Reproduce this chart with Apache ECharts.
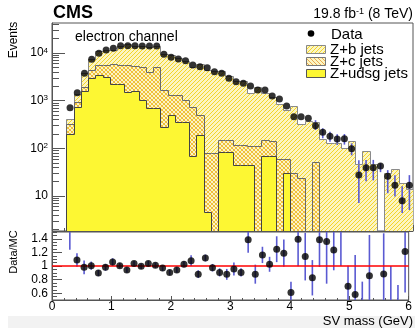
<!DOCTYPE html>
<html><head><meta charset="utf-8">
<script src="https://cdn.jsdelivr.net/npm/echarts@6/dist/echarts.min.js"></script>
<style>html,body{margin:0;padding:0;background:#fff}#c{width:415px;height:328px}</style>
</head><body><div id="c"></div>
<script>
// ---- data (SV mass, 50 bins of 0.12 GeV) ----
const binLow = [0,0.12,0.24,0.36,0.48,0.6,0.72,0.84,0.96,1.08,1.2,1.32,1.44,1.56,1.68,1.8,1.92,2.04,2.16,2.28,
  2.4,2.52,2.64,2.76,2.88,3.0,3.12,3.24,3.36,3.48,3.6,3.72,3.84,3.96,4.08,4.2,4.32,4.44,4.56,4.68,
  4.8,4.92,5.04,5.16,5.28,5.4,5.52,5.64,5.76,5.88];
const binWidth = 0.12;
const dataEvents = [null,null,713,1470,3750,7370,9850,11550,12540,14230,14200,14200,14000,14000,14000,9390,8120,7480,6900,5600,
  5160,4920,4060,3750,2950,2500,2310,2030,1675,1675,1250,1085,774,462,462,427,300,219,180,158,
  160,98.6,27.7,39.4,39.4,42.8,26,16.8,8,16.8];
const dataErrUp = [null,null,null,null,null,null,null,null,null,null,null,null,null,null,null,null,null,null,null,null,
  null,null,null,null,null,null,null,null,null,null,null,null,null,null,null,null,90,45,44,40,
  40,29,29,18,18,6,9,10.7,8,10.7];
const dataErrDown = [null,null,null,null,null,null,null,null,null,null,null,null,null,null,null,null,null,null,null,null,
  null,null,null,null,null,null,null,null,null,null,null,null,null,null,null,null,57,56,42,40,
  40,27,20.5,19,18,11,14.5,7,3.6,11.7];
const zUdsg = [0,0,200,730,1600,3000,3450,3200,2200,2200,1500,1600,1030,690,690,285,500,363,363,69,
  191,4.7,0,85,85,45,45,45,0,69,69,0,31,0,0,0,0,0,0,0,
  0,0,0,0,0,0,0,0,0,0];
const zC = [0,0,120,220,370,1400,2150,2400,3650,3400,4100,3800,4140,3370,4480,1390,820,957,672,681,
  309,75,79,65,65,72,72,65,110,81,71,60,29,30,23.6,0,51,0,0,0,
  0,0,0,0,0,0,0,0,0,0];
const zB = [0,0,90,400,1860,2930,5390,6190,5990,8560,9490,8320,8900,9470,8690,8005,7640,6640,5695,4440,
  5360,4320,4081,3990,3210,2503,2433,1356,1790,1290,1080,810,590,727,307,375,312,158,132,128,
  103,140,48,87,46,0,30,37,19,13.9];
const ratio = [null,null,1.74,1.089,0.98,1.005,0.896,0.98,1.059,1.005,0.941,1.035,0.995,1.035,1.01,0.97,0.906,0.94,1.025,1.079,
  0.88,1.118,0.975,0.906,0.877,0.956,0.906,1.385,0.88,1.163,1.025,1.247,1.188,0.61,1.395,1.138,0.827,1.385,1.36,1.237,
  1.55,0.704,0.58,0.45,0.857,null,0.881,0.45,0.42,1.212];
const ratioErr = [null,null,0.5,0.1,0.1,0.06,0.045,0.05,0.055,0.04,0.04,0.04,0.04,0.04,0.04,0.045,0.04,0.04,0.045,0.08,
  0.057,0.05,0.055,0.06,0.08,0.095,0.06,0.19,0.14,0.12,0.11,0.19,0.2,0.16,0.4,0.35,0.26,0.4,0.62,0.3,
  0.55,0.3,0.58,0.32,0.6,null,0.6,0.55,0.3,0.6];
const logMajorTicks = [10,100,1000,10000];
const logMinorTicks = [2,3,4,5,6,7,8,9,20,30,40,50,60,70,80,90,200,300,400,500,600,700,800,900,
  2000,3000,4000,5000,6000,7000,8000,9000,20000,30000,40000];
const ratioMajorTicks = [0.6,0.8,1,1.2,1.4];
const ratioMinorTicks = [0.5,0.55,0.65,0.7,0.75,0.85,0.9,0.95,1.05,1.1,1.15,1.25,1.3,1.35,1.45,1.5];
const legendNames = ['Data','Z+b jets','Z+c jets','Z+udsg jets'];

// ---- rendering ----
const Y_MIN = 1.855, Y_MAX = 42560;
const FONT = 'Liberation Sans, Arial, Helvetica, sans-serif';
function hatch(color, dir, bg) {
  const c = document.createElement('canvas'); c.width = 4; c.height = 4;
  const g = c.getContext('2d');
  if (bg) { g.fillStyle = bg; g.fillRect(0, 0, 4, 4); }
  g.strokeStyle = color; g.lineWidth = 1;
  g.beginPath();
  if (dir > 0) { g.moveTo(-1,5); g.lineTo(5,-1); g.moveTo(-1,1); g.lineTo(1,-1); g.moveTo(3,5); g.lineTo(5,3); }
  else { g.moveTo(-1,-1); g.lineTo(5,5); g.moveTo(3,-1); g.lineTo(5,1); g.moveTo(-1,3); g.lineTo(1,5); }
  g.stroke();
  return { image: c, repeat: 'repeat' };
}
const patB = hatch('#f3d52a', 1, '#fcf5c2');
const patC = hatch('#eca850', -1, null);
const patCLegend = hatch('#eca850', -1, '#fcf5c2');
const YELLOW = '#fdf733';

const cumU = zUdsg.slice();
const cumC = zUdsg.map((v, i) => v + zC[i]);
const cumB = cumC.map((v, i) => v + zB[i]);

function clampY(v) { return Math.min(Math.max(v, Y_MIN), Y_MAX); }
function histSeries(name, top, fill, stroke) {
  return {
    type: 'custom', name, xAxisIndex: 0, yAxisIndex: 0, clip: true,
    data: top.map((v, k) => [binLow[k], v]),
    renderItem(params, api) {
      const k = params.dataIndex;
      const x0 = binLow[k], x1 = x0 + binWidth;
      const v = top[k], vPrev = k > 0 ? top[k - 1] : 0;
      const pTop = api.coord([x0, clampY(v)]);
      const pBot = api.coord([x1, Y_MIN]);
      const pPrev = api.coord([x0, clampY(vPrev)]);
      const L = Math.round(pTop[0]), R = Math.round(pBot[0]);
      const T = Math.round(pTop[1]), B = Math.round(pBot[1]), P = Math.round(pPrev[1]);
      const ch = [];
      if (v > Y_MIN) ch.push({ type: 'rect', shape: { x: L, y: T, width: R - L, height: B - T }, style: { fill } });
      ch.push({ type: 'polyline', shape: { points: [[L + 0.5, P + 0.5], [L + 0.5, T + 0.5], [R + 0.5, T + 0.5]] },
        style: { stroke, lineWidth: 1, fill: null }, z2: 5 });
      return { type: 'group', children: ch };
    }
  };
}
function errSeries(xi, yi, xs, ys, up, down, color) {
  return {
    type: 'custom', xAxisIndex: xi, yAxisIndex: yi, clip: true,
    data: xs.map((x, k) => [x, ys[k], up[k], down[k]]).filter(d => d[1] != null && d[2] != null),
    renderItem(params, api) {
      const x = api.value(0), y = api.value(1), u = api.value(2), d = api.value(3);
      const lo = yi === 0 ? clampY(y - d) : Math.max(y - d, 0.5);
      const hi = yi === 0 ? clampY(y + u) : Math.min(y + u, 1.5);
      const a = api.coord([x, lo]), b = api.coord([x, hi]);
      return { type: 'line', shape: { x1: a[0], y1: a[1], x2: b[0], y2: b[1] }, style: { stroke: color, lineWidth: 1.6 } };
    }
  };
}
const centers = binLow.map(v => v + binWidth / 2);
const ERRC = '#5a5ad2';

const supRich = { s: { fontSize: 8, fontFamily: FONT, verticalAlign: 'top', padding: [0, 0, 5, 0] } };
const LEG_FONT = '15px ' + FONT;

const option = {
  animation: false,
  backgroundColor: '#fff',
  grid: [
    { left: 52, right: 2, top: 23, height: 208, show: true, borderColor: '#555', borderWidth: 1, backgroundColor: 'transparent' },
    { left: 52, right: 2, top: 232, height: 68, show: true, borderColor: '#555', borderWidth: 1, backgroundColor: 'transparent' }
  ],
  xAxis: [
    { type: 'value', gridIndex: 0, min: 0, max: 6, interval: 1, splitLine: { show: false },
      axisLine: { lineStyle: { color: '#555' } }, axisLabel: { show: false },
      axisTick: { inside: true, length: 6, lineStyle: { color: '#555' } },
      minorTick: { show: true, splitNumber: 5, length: 3, lineStyle: { color: '#555' } } },
    { type: 'value', gridIndex: 1, min: 0, max: 6, interval: 1, splitLine: { show: false },
      axisLine: { lineStyle: { color: '#555' } },
      axisLabel: { color: '#000', fontSize: 12, fontFamily: FONT, margin: 1 },
      axisTick: { inside: true, length: 4, lineStyle: { color: '#555' } },
      minorTick: { show: true, splitNumber: 5, length: 2, lineStyle: { color: '#555' } } }
  ],
  yAxis: [
    { type: 'log', gridIndex: 0, logBase: 10, min: Y_MIN, max: Y_MAX, position: 'left', splitLine: { show: false },
      axisLine: { show: true, lineStyle: { color: '#555' } },
      axisTick: { inside: true, length: 13, customValues: logMajorTicks, lineStyle: { color: '#555' } },
      axisLabel: { customValues: logMajorTicks, margin: 4, color: '#000', fontSize: 12, fontFamily: FONT, rich: supRich,
        formatter: v => { const e = Math.round(Math.log10(v)); return e === 1 ? '10' : '10{s|' + e + '}'; } } },
    { type: 'value', gridIndex: 1, min: 0.5, max: 1.5, position: 'left', splitLine: { show: false },
      axisLine: { show: true, lineStyle: { color: '#555' } },
      axisTick: { inside: true, length: 10, customValues: ratioMajorTicks, lineStyle: { color: '#555' } },
      axisLabel: { customValues: ratioMajorTicks, margin: 4, color: '#000', fontSize: 12, fontFamily: FONT,
        formatter: v => String(+v.toFixed(1)) } },
    { type: 'log', gridIndex: 0, logBase: 10, min: Y_MIN, max: Y_MAX, position: 'left', splitLine: { show: false },
      axisLine: { show: false }, axisLabel: { show: false },
      axisTick: { inside: true, length: 7, customValues: logMinorTicks, lineStyle: { color: '#555' } } },
    { type: 'value', gridIndex: 1, min: 0.5, max: 1.5, position: 'left', splitLine: { show: false },
      axisLine: { show: false }, axisLabel: { show: false },
      axisTick: { inside: true, length: 5, customValues: ratioMinorTicks, lineStyle: { color: '#555' } } }
  ],
  series: [
    histSeries('Z+b jets', cumB, patB, '#8a8a8a'),
    histSeries('Z+c jets', cumC, patC, '#6a6a6a'),
    histSeries('Z+udsg jets', cumU, YELLOW, '#444'),
    errSeries(0, 0, centers, dataEvents, dataErrUp, dataErrDown, ERRC),
    { type: 'scatter', name: 'Data', xAxisIndex: 0, yAxisIndex: 0, symbol: 'circle', symbolSize: 7,
      itemStyle: { color: '#000' }, z: 4,
      data: centers.map((x, k) => [x, dataEvents[k]]).filter(d => d[1] != null) },
    { type: 'line', xAxisIndex: 1, yAxisIndex: 1, data: [[0, 1], [6, 1]], symbol: 'none',
      lineStyle: { color: '#f00', width: 1.5 }, z: 2 },
    errSeries(1, 1, centers, ratio, ratioErr, ratioErr, ERRC),
    { type: 'scatter', xAxisIndex: 1, yAxisIndex: 1, symbol: 'circle', symbolSize: 7, clip: true,
      itemStyle: { color: '#000' }, z: 4,
      data: centers.map((x, k) => [x, ratio[k]]).filter(d => d[1] != null) }
  ],
  graphic: [
    { type: 'rect', shape: { x: 8, y: 316, width: 407, height: 12 }, style: { fill: '#f2f2f2' }, z: -10 },
    { type: 'text', x: 53, y: 13.5, style: { text: 'CMS', font: 'bold 18px ' + FONT, fill: '#000', textVerticalAlign: 'middle' } },
    { type: 'text', x: 413, y: 14.5, style: { text: '19.8 fb{s|-1} (8 TeV)', font: '14px ' + FONT, fill: '#000',
      textAlign: 'right', textVerticalAlign: 'middle', rich: { s: { fontSize: 9, fontFamily: FONT, verticalAlign: 'top', padding: [0, 0, 6, 0] } } } },
    { type: 'text', x: 75, y: 37, style: { text: 'electron channel', font: '14px ' + FONT, fill: '#000', textVerticalAlign: 'middle' }, z: 100 },
    { type: 'text', x: 14, y: 40, rotation: Math.PI / 2, style: { text: 'Events', font: '12px ' + FONT, fill: '#000', textAlign: 'center', textVerticalAlign: 'middle' } },
    { type: 'text', x: 14, y: 252, rotation: Math.PI / 2, style: { text: 'Data/MC', font: '11px ' + FONT, fill: '#000', textAlign: 'center', textVerticalAlign: 'middle' } },
    { type: 'text', x: 413, y: 321, style: { text: 'SV mass (GeV)', font: '13px ' + FONT, fill: '#000', textAlign: 'right', textVerticalAlign: 'middle' } },
    // legend
    { type: 'group', z: 100, children: [
      { type: 'rect', shape: { x: 300, y: 26, width: 112, height: 55 }, style: { fill: '#fff' } },
      { type: 'circle', shape: { cx: 311, cy: 33.5, r: 3.3 }, style: { fill: '#000' } },
      { type: 'text', x: 331, y: 35, style: { text: legendNames[0], font: LEG_FONT, fill: '#000', textVerticalAlign: 'middle' } },
      { type: 'rect', shape: { x: 306.5, y: 45.5, width: 19, height: 8 }, style: { fill: patB, stroke: '#888', lineWidth: 1 } },
      { type: 'text', x: 330, y: 49.5, style: { text: legendNames[1], font: LEG_FONT, fill: '#000', textVerticalAlign: 'middle' } },
      { type: 'rect', shape: { x: 306.5, y: 57.5, width: 19, height: 8 }, style: { fill: patCLegend, stroke: '#777', lineWidth: 1 } },
      { type: 'text', x: 330, y: 61.5, style: { text: legendNames[2], font: LEG_FONT, fill: '#000', textVerticalAlign: 'middle' } },
      { type: 'rect', shape: { x: 306.5, y: 69.5, width: 19, height: 8 }, style: { fill: YELLOW, stroke: '#555', lineWidth: 1 } },
      { type: 'text', x: 330, y: 73.5, style: { text: legendNames[3], font: LEG_FONT, fill: '#000', textVerticalAlign: 'middle' } }
    ] }
  ]
};
const chart = echarts.init(document.getElementById('c'), null, { renderer: 'canvas' });
chart.setOption(option);
</script>
</body></html>
